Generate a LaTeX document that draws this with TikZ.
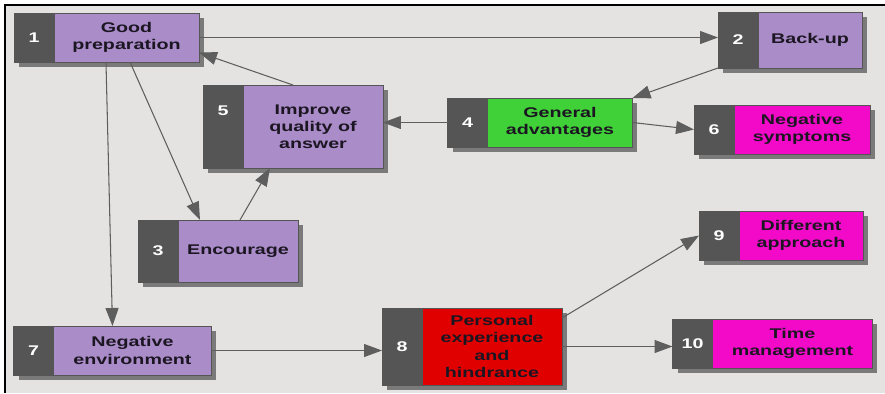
\documentclass[tikz,border=0pt]{standalone}
\usepackage{fontspec}
\newfontfamily\diagfont[FakeStretch=1.4]{Liberation Sans}
\usetikzlibrary{arrows.meta,positioning,shadows}
\definecolor{lilac}{HTML}{A98CC8}
\definecolor{leaf}{HTML}{40D038}
\definecolor{pinkish}{HTML}{F20AC8}
\definecolor{alarm}{HTML}{E00000}
\definecolor{dkgray}{HTML}{555555}
\definecolor{shade}{HTML}{7A7A7A}
\definecolor{linegray}{HTML}{5E5E5E}
\definecolor{bgcol}{HTML}{E4E3E1}
\definecolor{ink}{HTML}{1C1622}

\begin{document}
\begin{tikzpicture}[x=0.02cm,y=-0.02cm,
		font=\fontsize{8}{9.8}\diagfont\bfseries,
		numcell/.style={draw=dkgray,fill=dkgray,text=white,minimum width=0.8cm,inner sep=0pt,outer sep=0pt,
			drop shadow={shadow xshift=0.1cm,shadow yshift=-0.1cm,fill=shade,opacity=1}},
		stepbox/.style={draw=dkgray,fill=#1,text=ink,align=center,inner sep=0pt,outer sep=0pt,
			drop shadow={shadow xshift=0.1cm,shadow yshift=-0.1cm,fill=shade,opacity=1}},
		link/.style={draw=linegray,line width=0.6pt,-{Triangle[length=0.36cm,width=0.26cm]}}]
	% sfondo e cornice
	\useasboundingbox (0,0) rectangle (885,393);
	\fill[bgcol] (5,5) rectangle (885,393);
	\draw[line width=0.8pt] (5,393) -- (5,5) -- (885,5);
	
	% riga in alto
	\node[numcell,minimum height=0.98cm] (n1) at (34,37.5) {1};
	\node[stepbox=lilac,minimum width=2.9cm,minimum height=0.98cm,right=0pt of n1] (b1) {Good\\preparation};
	\node[numcell,minimum height=1.12cm] (n2) at (738,40) {2};
	\node[stepbox=lilac,minimum width=2.08cm,minimum height=1.12cm,right=0pt of n2] (b2) {Back-up};
	
	% riga centrale
	\node[numcell,minimum height=1.66cm,text height=0.6cm,text depth=1.06cm] (n5) at (223,126.5) {5};
	\node[stepbox=lilac,minimum width=2.8cm,minimum height=1.66cm,right=0pt of n5] (b5) {Improve\\quality of\\answer};
	\node[numcell,minimum height=0.98cm] (n4) at (467.5,122.5) {4};
	\node[stepbox=leaf,minimum width=2.9cm,minimum height=0.98cm,right=0pt of n4] (b4) {General\\advantages};
	\node[numcell,minimum height=0.98cm] (n6) at (714,129.5) {6};
	\node[stepbox=pinkish,minimum width=2.72cm,minimum height=0.98cm,right=0pt of n6] (b6) {Negative\\symptoms};
	\node[numcell,minimum height=1.24cm] (n3) at (158,251) {3};
	\node[stepbox=lilac,minimum width=2.4cm,minimum height=1.24cm,right=0pt of n3] (b3) {Encourage};
	\node[numcell,minimum height=0.98cm] (n9) at (719,235.5) {9};
	\node[stepbox=pinkish,minimum width=2.48cm,minimum height=0.98cm,right=0pt of n9] (b9) {Different\\approach};
	
	% riga in basso
	\node[numcell,minimum height=0.98cm] (n7) at (33.5,350.5) {7};
	\node[stepbox=lilac,minimum width=3.16cm,minimum height=0.98cm,right=0pt of n7] (b7) {Negative\\environment};
	\node[numcell,minimum height=1.54cm] (n8) at (402,346.5) {8};
	\node[stepbox=alarm,minimum width=2.8cm,minimum height=1.54cm,right=0pt of n8] (b8) {Personal\\experience\\and\\hindrance};
	\node[numcell,minimum height=0.98cm] (n10) at (692.5,343.5) {10};
	\node[stepbox=pinkish,minimum width=3.2cm,minimum height=0.98cm,right=0pt of n10] (b10) {Time\\management};
	
	% collegamenti
	\draw[link] (b1.east) -- (b1.east -| n2.west);
	\draw[link] (n2.south west) -- (b4.north east);
	\draw[link] (n4.west) -- (n4.west -| b5.east);
	\draw[link] (b4.east) -- (n6.west);
	\draw[link] ([xshift=-0.4cm]b5.north) -- ([yshift=-0.3cm]b1.east);
	\draw[link] ([xshift=0.07cm]b1.south) -- ([xshift=0.44cm]b3.north west);
	\draw[link] ([xshift=1.04cm]b1.south west) -- ([xshift=1.18cm]b7.north west);
	\draw[link] ([xshift=0.04cm]b3.north) -- ([xshift=0.54cm]b5.south west);
	\draw[link] (b7.east) -- (b7.east -| n8.west);
	\draw[link] ([yshift=-0.2cm]b8.north east) -- (n9.west);
	\draw[link] (b8.east) -- (b8.east -| n10.west);
\end{tikzpicture}
\end{document}
